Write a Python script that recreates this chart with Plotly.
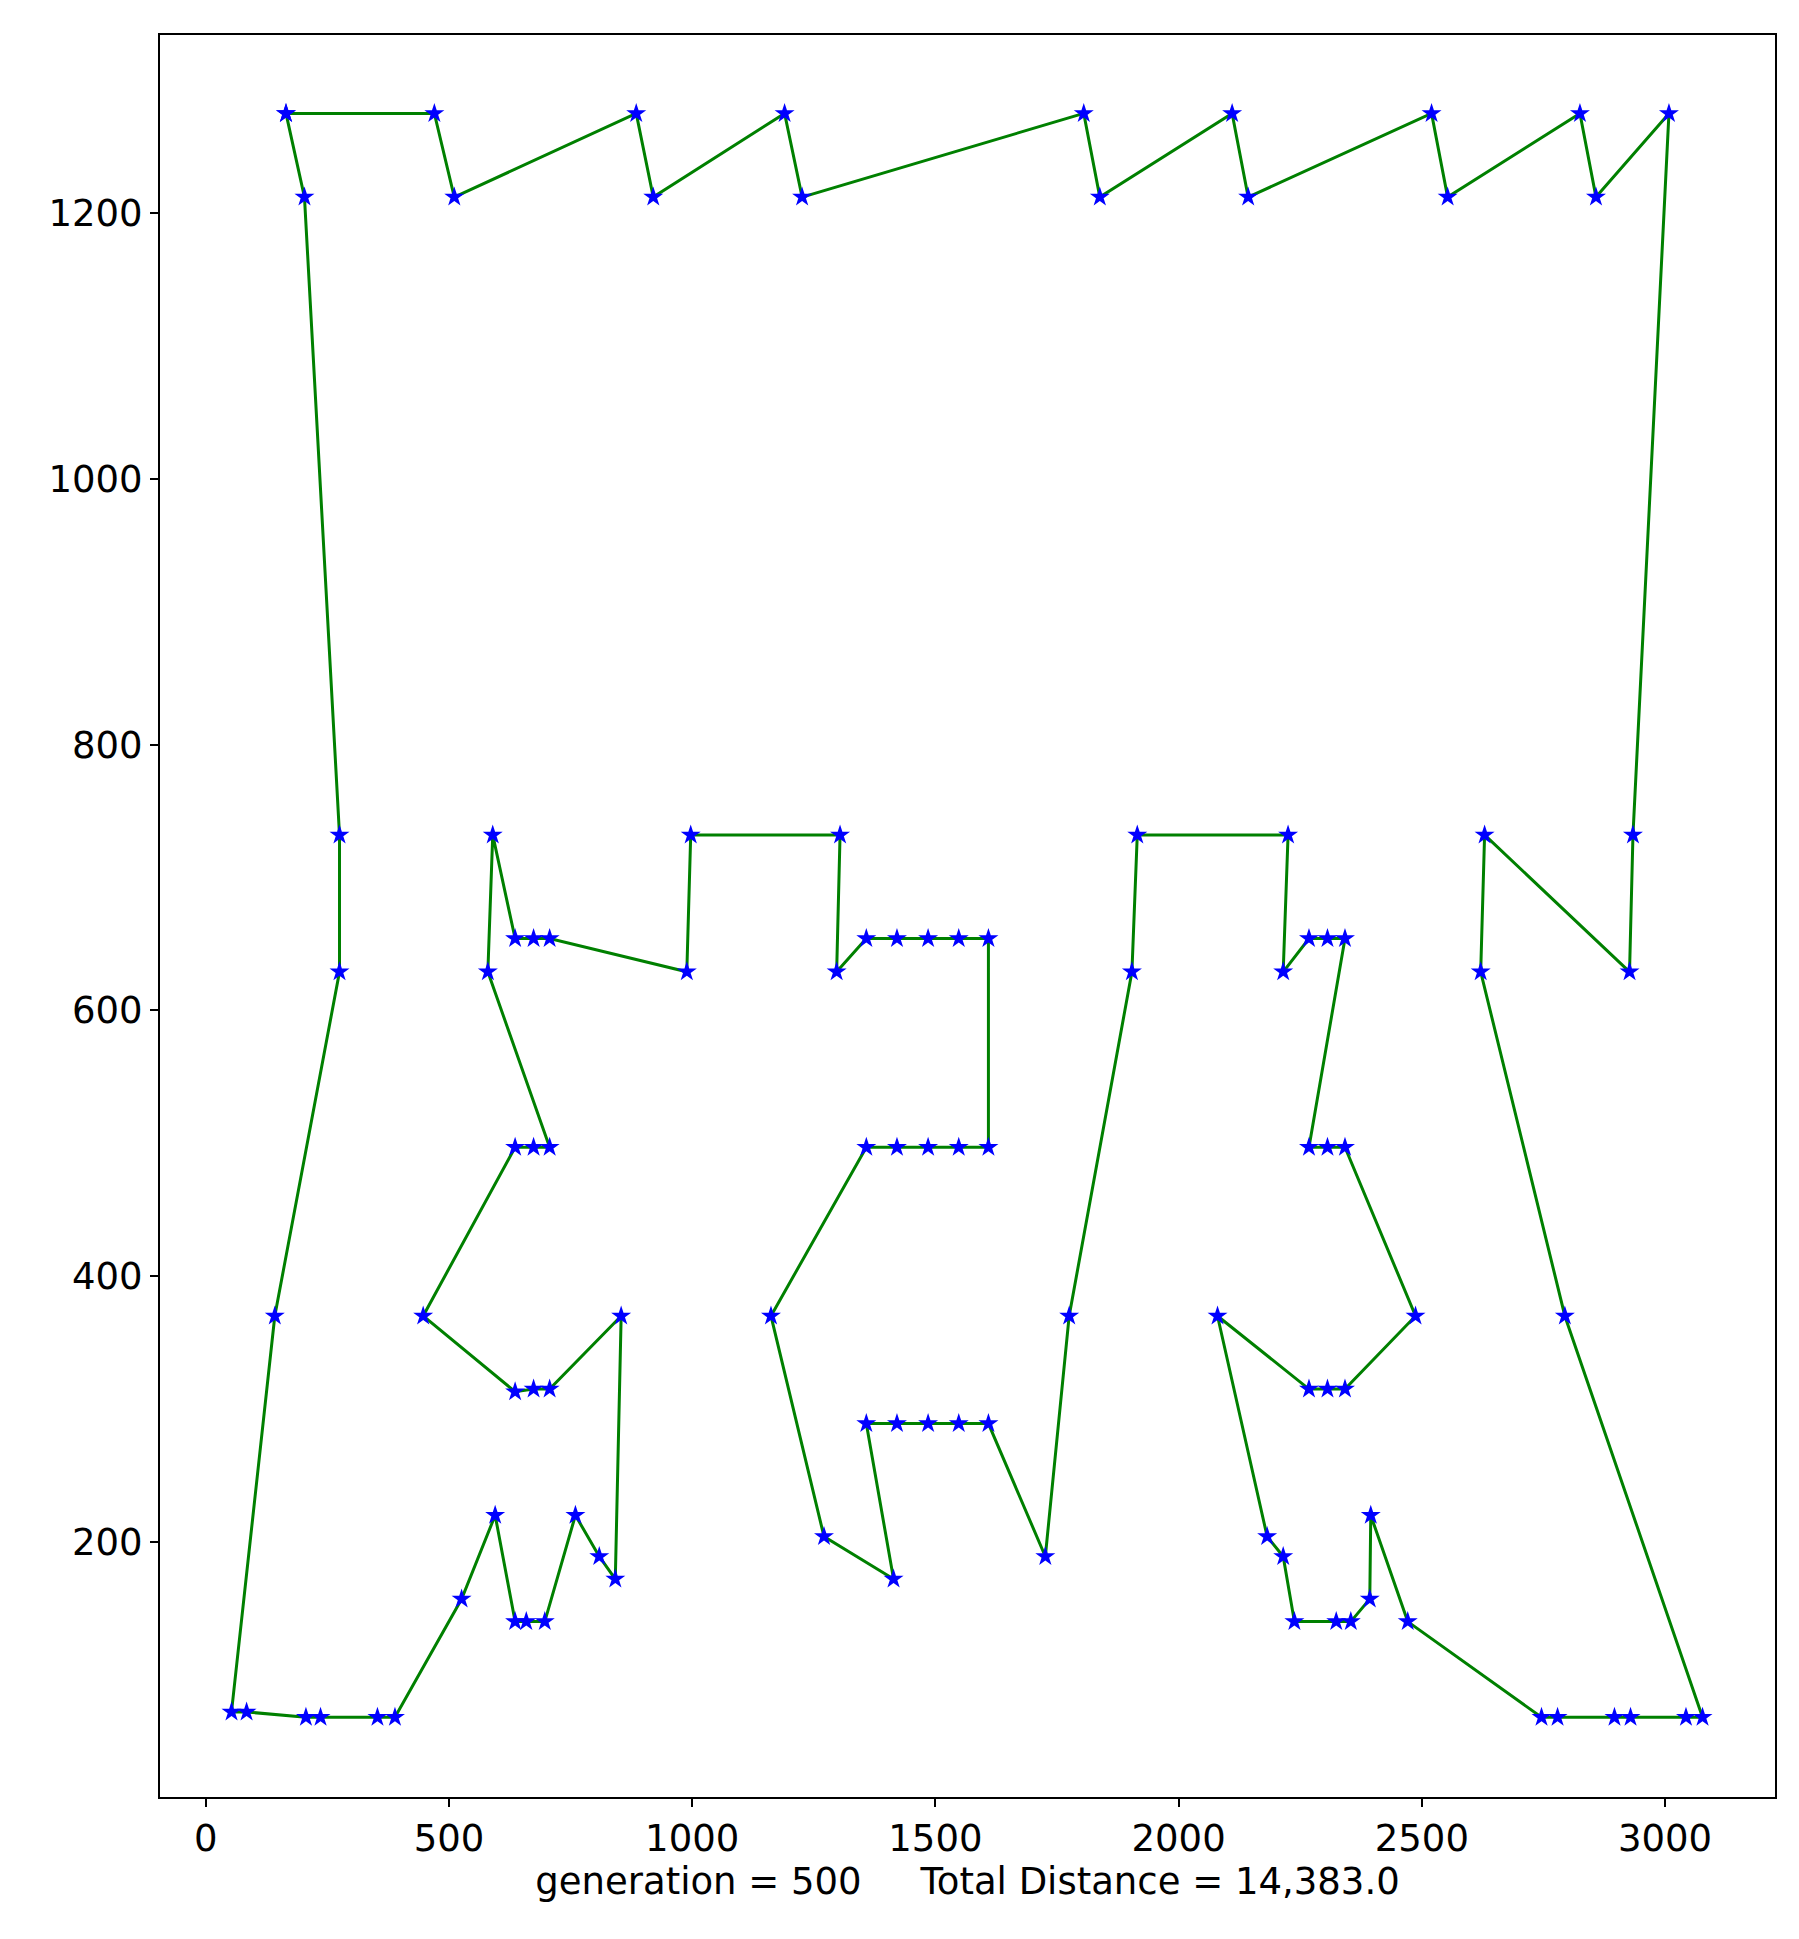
import plotly.graph_objects as go

route_x = [165, 470, 511, 885, 920, 1190, 1226, 1805, 1838, 2110, 2143, 2520, 2553, 2825, 2858, 3008,
           2934, 2927, 2629, 2621, 2794, 3077, 3043, 2929, 2896, 2779, 2746, 2471, 2395, 2393, 2354, 2324,
           2238, 2215, 2182, 2080, 2268, 2306, 2342, 2487, 2342, 2306, 2268, 2342, 2306, 2268, 2215, 2225,
           1915, 1904, 1775, 1726, 1609, 1548, 1485, 1421, 1358, 1414, 1271, 1162, 1358, 1421, 1485, 1548,
           1609, 1609, 1548, 1485, 1421, 1358, 1297, 1304, 997, 989, 707, 674, 636, 590, 580, 707, 674, 636,
           447, 636, 674, 707, 854, 842, 809, 760, 697, 659, 636, 595, 526, 389, 353, 236, 206, 84, 53, 142,
           275, 275, 203, 165]
route_y = [1275, 1275, 1212, 1275, 1212, 1275, 1212, 1275, 1212, 1275, 1212, 1275, 1212, 1275, 1212, 1275,
           732, 629, 732, 629, 370, 68, 68, 68, 68, 68, 68, 140, 220, 157, 140, 140,
           140, 189, 204, 370, 315, 315, 315, 370, 497, 497, 497, 654, 654, 654, 629, 732,
           732, 629, 370, 189, 289, 289, 289, 289, 289, 172, 204, 370, 497, 497, 497, 497,
           497, 654, 654, 654, 654, 654, 629, 732, 732, 629, 654, 654, 654, 732, 629, 497, 497, 497,
           370, 313, 315, 315, 370, 172, 189, 220, 140, 140, 140, 220, 157, 68, 68, 68, 68, 72, 72, 370,
           629, 732, 1212, 1275]

fig = go.Figure(go.Scatter(
    x=route_x, y=route_y, mode="lines+markers",
    line=dict(color="green", width=3),
    marker=dict(symbol="star", color="blue", size=15, line=dict(width=0)),
))
axis = dict(showgrid=False, zeroline=False, showline=True, linecolor="black", linewidth=2,
            mirror=True, ticks="outside", ticklen=8, tickwidth=2, tickcolor="black",
            tickfont=dict(family="DejaVu Sans", size=37, color="black"))
fig.update_xaxes(range=[-94, 3226], tickvals=[0, 500, 1000, 1500, 2000, 2500, 3000],
                 title=dict(text="generation = 500     Total Distance = 14,383.0",
                            font=dict(family="DejaVu Sans", size=37, color="black"), standoff=6),
                 **axis)
fig.update_yaxes(range=[8, 1334], tickvals=[200, 400, 600, 800, 1000, 1200], **axis)
fig.update_layout(width=1799, height=1939, plot_bgcolor="white", paper_bgcolor="white",
                  margin=dict(l=152, r=32, t=27, b=150), showlegend=False)
fig.write_html("out.html")
